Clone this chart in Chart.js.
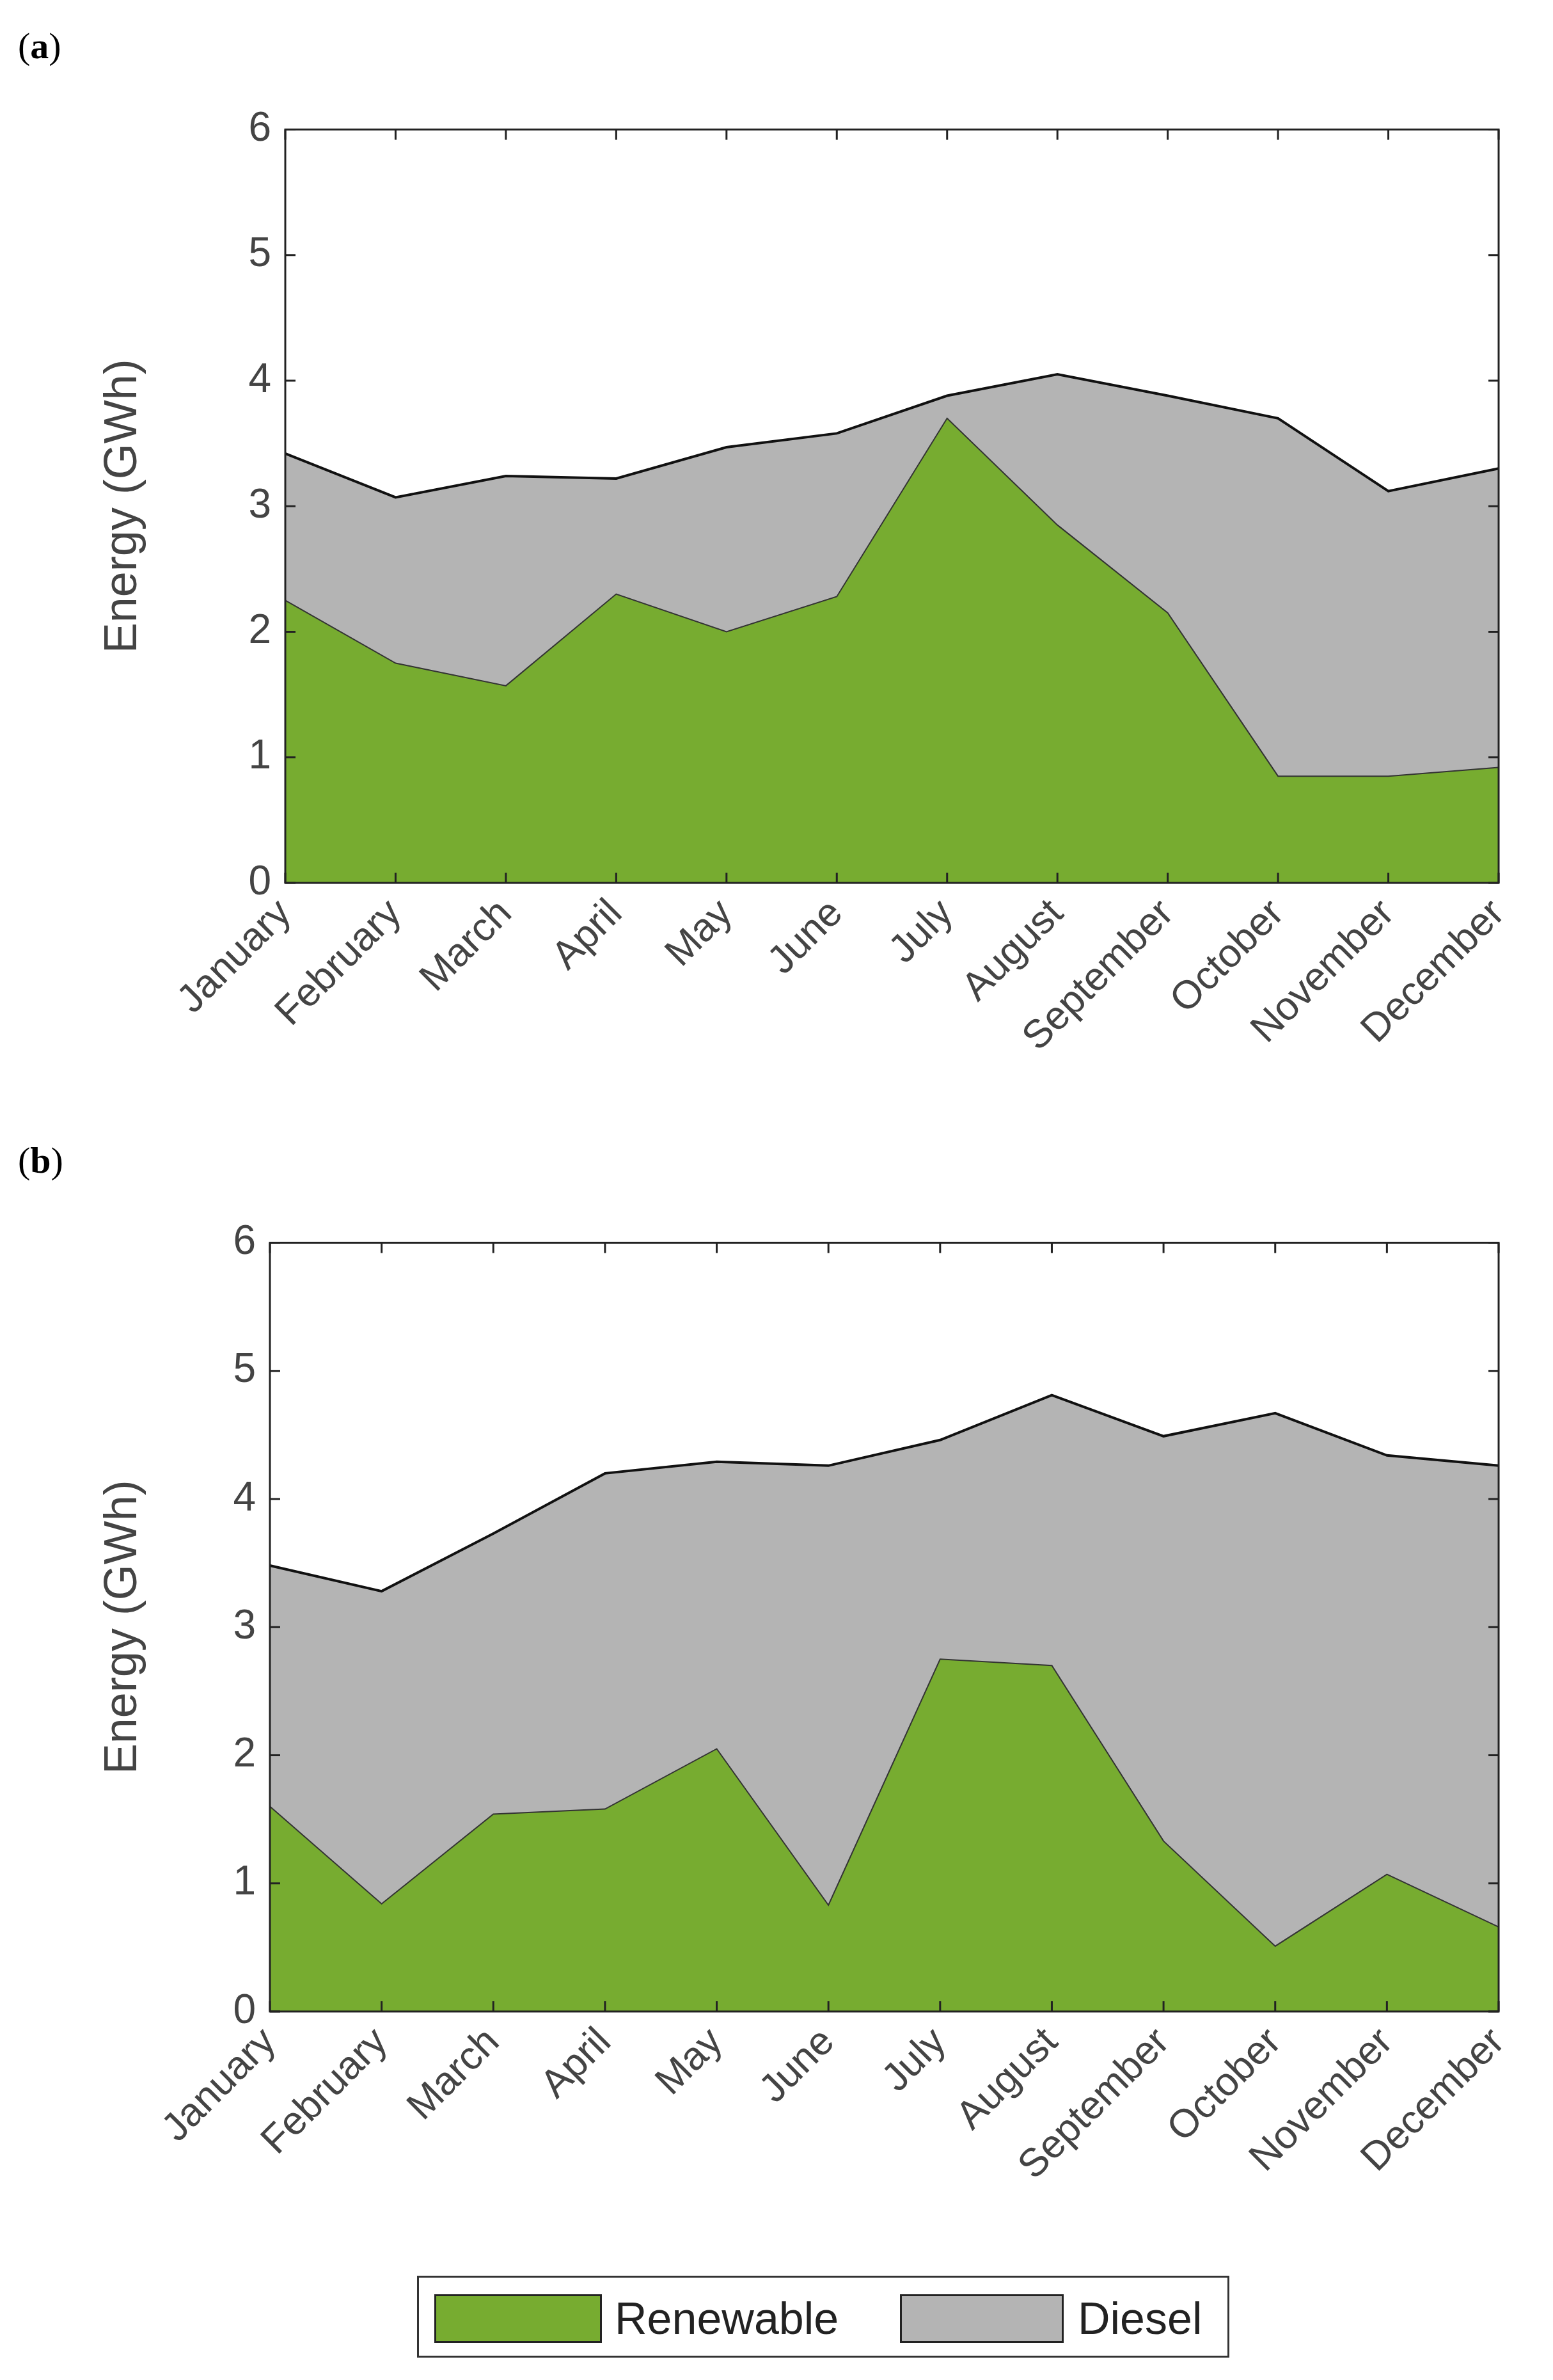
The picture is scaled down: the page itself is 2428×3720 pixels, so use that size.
<!DOCTYPE html>
<html><head><meta charset="utf-8">
<script src="https://cdn.jsdelivr.net/npm/chart.js@4.4.1/dist/chart.umd.min.js"></script>
<style>
body{margin:0;width:2428px;height:3720px;background:#fff;position:relative;font-family:"Liberation Sans",Arial,sans-serif}
.lab{position:absolute;font-family:"Liberation Serif",serif;font-size:58px;color:#000}
.box{position:absolute}
#legend{position:absolute;left:652px;top:3557px;width:1270px;height:128px;border:3px solid #333;box-sizing:border-box}
.sw{position:absolute;top:26px;height:76px;border:3px solid #222;box-sizing:border-box}
.lt{position:absolute;top:24px;font-size:70px;color:#222}
</style></head><body>
<div class="lab" style="left:28px;top:38px">(<b>a</b>)</div>
<div class="lab" style="left:28px;top:1780px">(<b>b</b>)</div>
<div class="box" style="left:150px;top:150px;width:2278px;height:1630px"><canvas id="ca"></canvas></div>
<div class="box" style="left:150px;top:1890px;width:2278px;height:1640px"><canvas id="cb"></canvas></div>
<div id="legend">
 <div class="sw" style="left:24px;width:262px;background:#77ac30"></div>
 <div class="lt" style="left:306px">Renewable</div>
 <div class="sw" style="left:752px;width:256px;background:#b4b4b4"></div>
 <div class="lt" style="left:1030px">Diesel</div>
</div>
<script>
const months = ['January','February','March','April','May','June','July','August','September','October','November','December'];
const renewA = [2.25,1.75,1.57,2.3,2.0,2.28,3.7,2.85,2.15,0.85,0.85,0.92];
const totalA = [3.42,3.07,3.24,3.22,3.47,3.58,3.88,4.05,3.88,3.7,3.12,3.3];
const renewB = [1.6,0.84,1.54,1.58,2.05,0.83,2.75,2.7,1.33,0.51,1.07,0.66];
const totalB = [3.48,3.28,3.73,4.2,4.29,4.26,4.46,4.81,4.49,4.67,4.34,4.26];
const yTicks = [0,1,2,3,4,5,6];

const boxPlugin = {
  id: 'boxTicks',
  afterDatasetsDraw(chart) {
    const {ctx, chartArea: a, scales: {x, y}} = chart;
    ctx.save();
    ctx.strokeStyle = '#222'; ctx.lineWidth = 3;
    ctx.strokeRect(a.left, a.top, a.right - a.left, a.bottom - a.top);
    const t = 16;
    yTicks.forEach(v => {
      const py = y.getPixelForValue(v);
      ctx.beginPath();
      ctx.moveTo(a.left, py); ctx.lineTo(a.left + t, py);
      ctx.moveTo(a.right, py); ctx.lineTo(a.right - t, py);
      ctx.stroke();
    });
    months.forEach((m, i) => {
      const px = x.getPixelForValue(i);
      ctx.beginPath();
      ctx.moveTo(px, a.bottom); ctx.lineTo(px, a.bottom - t);
      ctx.moveTo(px, a.top); ctx.lineTo(px, a.top + t);
      ctx.stroke();
    });
    ctx.restore();
  }
};

function makeChart(id, renew, total, yw, xh, padTop) {
  const diesel = total.map((v, i) => +(v - renew[i]).toFixed(2));
  new Chart(document.getElementById(id), {
    type: 'line',
    data: { labels: months, datasets: [
      { label: 'Renewable', data: renew, fill: 'origin', backgroundColor: '#77ac30', borderColor: '#333', borderWidth: 2, pointRadius: 0, tension: 0 },
      { label: 'Diesel', data: diesel, fill: '-1', backgroundColor: '#b4b4b4', borderColor: '#111', borderWidth: 4, pointRadius: 0, tension: 0 }
    ]},
    options: {
      responsive: true, maintainAspectRatio: false, animation: false,
      layout: { padding: { top: padTop, right: 85 } },
      plugins: { legend: { display: false }, tooltip: { enabled: false } },
      scales: {
        x: { offset: false, grid: { display: false }, border: { display: false },
             afterFit: s => { s.height = xh; },
             ticks: { color: '#444', font: { family: 'Liberation Sans', size: 62 }, maxRotation: 45, minRotation: 45, autoSkip: false, padding: 4 } },
        y: { stacked: true, min: 0, max: 6, grid: { display: false }, border: { display: false },
             afterFit: s => { s.width = yw; },
             ticks: { stepSize: 1, color: '#444', font: { family: 'Liberation Sans', size: 64 }, padding: 14 },
             title: { display: true, text: 'Energy (GWh)', color: '#444', font: { family: 'Liberation Sans', size: 72 }, padding: 0 } }
      }
    },
    plugins: [boxPlugin]
  });
}
makeChart('ca', renewA, totalA, 296, 400, 44);
makeChart('cb', renewB, totalB, 272, 386, 47);
</script>
</body></html>
